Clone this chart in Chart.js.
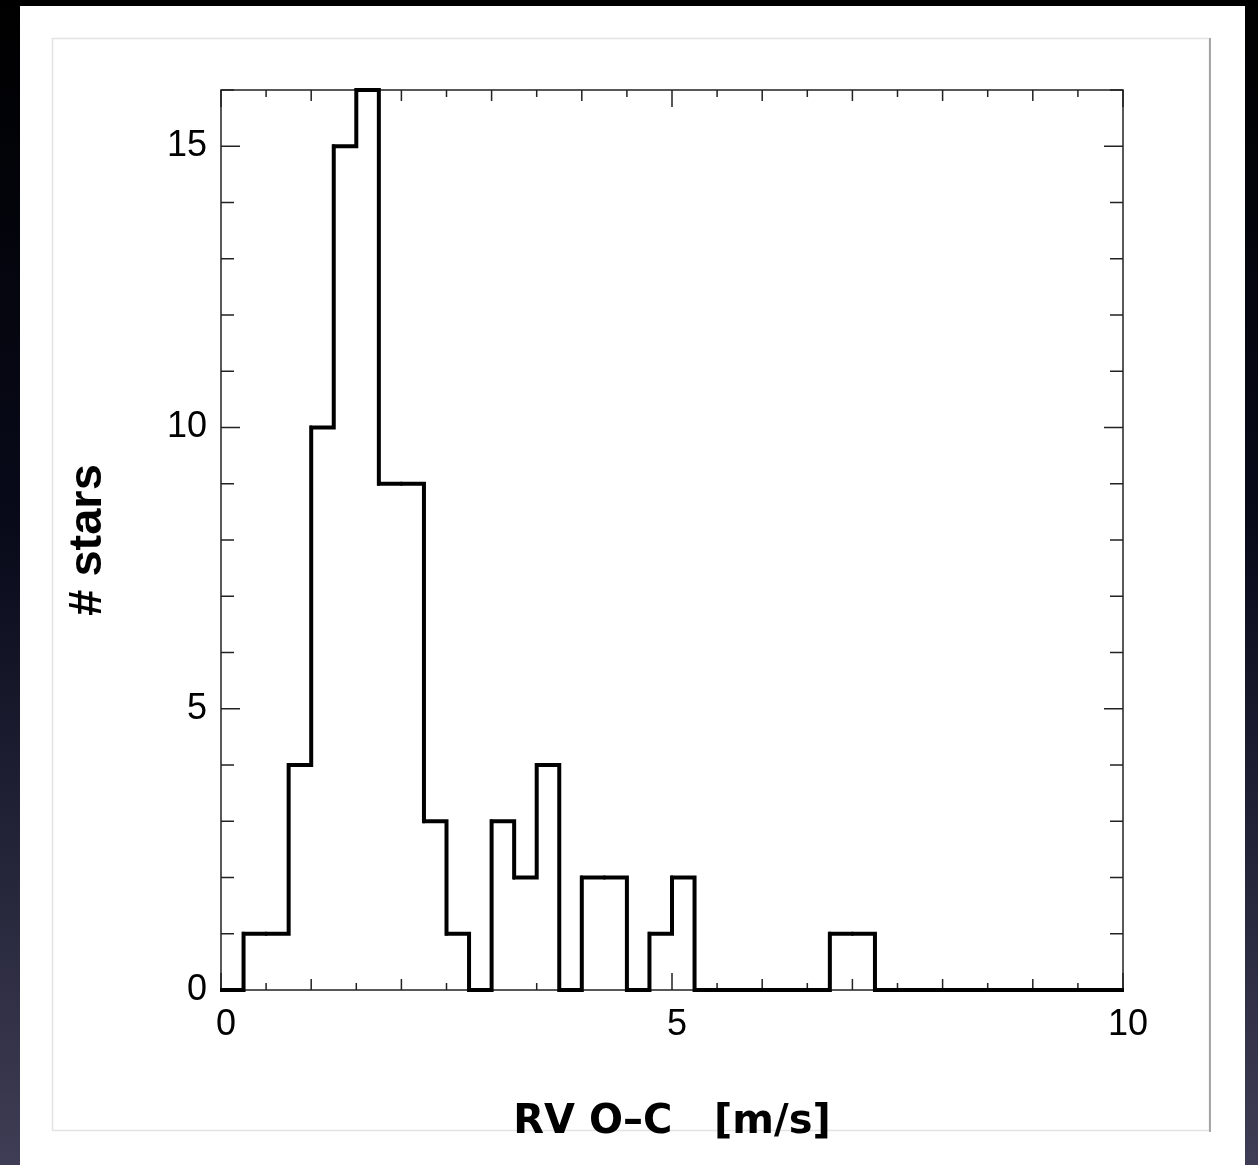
<!DOCTYPE html>
<html>
<head>
<meta charset="utf-8">
<title>RV O-C histogram</title>
<script src="https://cdn.jsdelivr.net/npm/chart.js@4.4.1/dist/chart.umd.min.js"></script>
<style>
  html, body { margin: 0; padding: 0; background: #000; overflow: hidden; }
  canvas { display: block; }
</style>
</head>
<body>
<canvas id="histChart" width="1258" height="1165"></canvas>
<script>
// bin edges of the histogram, 0.25 m/s wide
const binEdges = [
  0, 0.25, 0.5, 0.75, 1, 1.25, 1.5, 1.75, 2, 2.25,
  2.5, 2.75, 3, 3.25, 3.5, 3.75, 4, 4.25, 4.5, 4.75,
  5, 5.25, 5.5, 5.75, 6, 6.25, 6.5, 6.75, 7, 7.25,
  7.5, 7.75, 8, 8.25, 8.5, 8.75, 9, 9.25, 9.5, 9.75, 10
];
// number of stars per bin
const starCounts = [
  0, 1, 1, 4, 10, 15, 16, 9, 9, 3,
  1, 0, 3, 2, 4, 0, 2, 2, 0, 1,
  2, 0, 0, 0, 0, 0, 0, 1, 1, 0,
  0, 0, 0, 0, 0, 0, 0, 0, 0, 0
];
const xTickValues = [0, 5, 10];
const yTickValues = [0, 5, 10, 15];
const xTitle = 'RV O–C   [m/s]';
const yTitle = '# stars';

const backdrop = {
  id: 'backdrop',
  beforeDraw(chart) {
    const ctx = chart.ctx;
    const w = chart.width, h = chart.height;
    ctx.save();
    const g = ctx.createLinearGradient(0, 0, 0, h);
    g.addColorStop(0, '#000000');
    g.addColorStop(0.45, '#080a1a');
    g.addColorStop(1, '#3e3d55');
    ctx.fillStyle = g;
    ctx.fillRect(0, 0, w, h);
    ctx.fillStyle = '#ffffff';
    ctx.fillRect(20, 6, 1225, h - 6);
    // inner card outline
    ctx.lineWidth = 1.5;
    ctx.strokeStyle = '#e3e3e3';
    ctx.strokeRect(52.5, 38.5, 1157, 1092);
    ctx.strokeStyle = '#8e8e8e';
    ctx.beginPath();
    ctx.moveTo(1210, 38);
    ctx.lineTo(1210, 1132);
    ctx.stroke();
    ctx.restore();
  }
};

// box around the plot plus inward ticks on all four sides
const frame = {
  id: 'frame',
  beforeDatasetsDraw(chart) {
    const {ctx, chartArea: a, scales: {x, y}} = chart;
    ctx.save();
    ctx.strokeStyle = '#222';
    ctx.lineWidth = 1.5;
    ctx.strokeRect(a.left, a.top, a.right - a.left, a.bottom - a.top);
    ctx.beginPath();
    for (let v = x.min; v <= x.max; v += 0.5) {
      const len = v % 5 === 0 ? 17 : (v % 1 === 0 ? 11 : 7);
      const px = x.getPixelForValue(v);
      ctx.moveTo(px, a.bottom); ctx.lineTo(px, a.bottom - len);
      ctx.moveTo(px, a.top); ctx.lineTo(px, a.top + len);
    }
    for (let v = y.min; v <= y.max; v += 1) {
      const len = v % 5 === 0 ? 19 : 13;
      const py = y.getPixelForValue(v);
      ctx.moveTo(a.left, py); ctx.lineTo(a.left + len, py);
      ctx.moveTo(a.right, py); ctx.lineTo(a.right - len, py);
    }
    ctx.stroke();
    ctx.restore();
  }
};

function renderHistogram() {
  const points = binEdges.map((x, i) => ({
    x,
    y: starCounts[Math.min(i, starCounts.length - 1)]
  }));

  const ctx = document.getElementById('histChart').getContext('2d');
  new Chart(ctx, {
    type: 'line',
    data: {
      datasets: [{
        data: points,
        stepped: 'before',
        fill: false,
        borderColor: '#000',
        borderWidth: 4,
        borderJoinStyle: 'miter',
        pointStyle: 'line',
        pointRotation: 90,
        pointRadius: 2,
        pointBorderWidth: 2,
        pointBorderColor: '#000',
        clip: false
      }]
    },
    options: {
      responsive: false,
      animation: false,
      devicePixelRatio: 1,
      events: [],
      layout: { padding: { left: 0, top: 90, right: 135, bottom: 0 } },
      plugins: {
        legend: { display: false },
        tooltip: { enabled: false }
      },
      scales: {
        x: {
          type: 'linear',
          min: 0,
          max: 10,
          afterFit: s => { s.height = 175; },
          afterBuildTicks: s => { s.ticks = xTickValues.map(v => ({ value: v })); },
          grid: { display: false, drawTicks: false },
          border: { display: false },
          ticks: {
            color: '#000',
            font: { family: 'Liberation Sans, Arial, sans-serif', size: 36 },
            padding: 13,
            labelOffset: 5,
            maxRotation: 0,
            autoSkip: false
          },
          title: {
            display: true,
            text: xTitle,
            color: '#000',
            font: { family: 'DejaVu Sans, sans-serif', weight: 'bold', size: 40 },
            padding: { top: 0, bottom: 18 }
          }
        },
        y: {
          min: 0,
          max: 16,
          afterFit: s => { s.width = 221; },
          afterBuildTicks: s => { s.ticks = yTickValues.map(v => ({ value: v })); },
          grid: { display: false, drawTicks: false },
          border: { display: false },
          ticks: {
            color: '#000',
            font: { family: 'Liberation Sans, Arial, sans-serif', size: 36 },
            padding: 14,
            autoSkip: false
          },
          title: {
            display: true,
            text: yTitle,
            color: '#000',
            font: { family: 'Liberation Sans, Arial, sans-serif', weight: 'bold', size: 47 },
            padding: { top: 60, bottom: 0 }
          }
        }
      }
    },
    plugins: [backdrop, frame]
  });
}

document.addEventListener('DOMContentLoaded', renderHistogram);
</script>
</body>
</html>
